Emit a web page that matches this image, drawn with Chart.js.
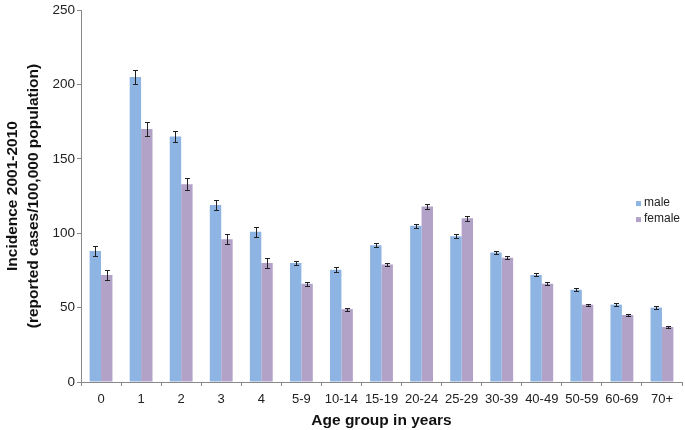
<!DOCTYPE html>
<html>
<head>
<meta charset="utf-8">
<script src="https://cdn.jsdelivr.net/npm/chart.js@4"></script>
<style>
    html, body { margin: 0; padding: 0; background: #fff; }
    #wrap { width: 685px; height: 430px; }
</style>
</head>
<body>
<div id="wrap"><canvas id="incidenceChart" width="685" height="430"></canvas></div>
<script>
// Incidence by age group and sex, 2001-2010
const ageGroups = ['0', '1', '2', '3', '4', '5-9', '10-14', '15-19', '20-24', '25-29', '30-39', '40-49', '50-59', '60-69', '70+'];
const maleValues = [88, 205, 165, 119, 101, 80, 75.5, 92, 105, 98, 87, 72, 62, 52, 50];
const femaleValues = [72, 170, 133, 96, 80, 66, 49, 79, 118, 110, 83.5, 66, 52, 45, 37];
const maleErrors = [3.5, 4.5, 4, 3.5, 3.5, 1.5, 1.5, 1.5, 1.5, 1.5, 1, 1, 1, 1, 1];
const femaleErrors = [3.5, 4.5, 4, 3.5, 3.5, 1.5, 1, 1, 1.5, 1.5, 1, 1, 0.7, 0.7, 0.7];
const yTicks = [0, 50, 100, 150, 200, 250];

const FONT = '"Liberation Sans", Arial, Helvetica, sans-serif';

// Draw error bars from the dataset's own errors array
const errorBars = {
    id: 'errorBars',
    afterDatasetsDraw(chart) {
        const { ctx } = chart;
        const y = chart.scales.y;
        ctx.save();
        ctx.strokeStyle = '#222';
        ctx.lineWidth = 1;
        chart.data.datasets.forEach((ds, i) => {
            const meta = chart.getDatasetMeta(i);
            meta.data.forEach((bar, j) => {
                const v = ds.data[j], e = ds.errors[j];
                const top = Math.round(y.getPixelForValue(v + e)) + 0.5;
                const bot = Math.round(y.getPixelForValue(v - e)) + 0.5;
                const x = Math.round(bar.x) + 0.5;
                ctx.beginPath();
                ctx.moveTo(x, top); ctx.lineTo(x, bot);
                ctx.moveTo(x - 2.5, top); ctx.lineTo(x + 2.5, top);
                ctx.moveTo(x - 2.5, bot); ctx.lineTo(x + 2.5, bot);
                ctx.stroke();
            });
        });
        ctx.restore();
    }
};

// Small legend sitting inside the plot at the right
const sideLegend = {
    id: 'sideLegend',
    afterDraw(chart) {
        const { ctx, chartArea } = chart;
        const x = chartArea.right - 46;
        let yy = chartArea.top + 193;
        ctx.save();
        ctx.font = '12px ' + FONT;
        ctx.textBaseline = 'middle';
        chart.data.datasets.forEach(ds => {
            ctx.fillStyle = ds.backgroundColor;
            ctx.fillRect(x, yy - 2, 5, 5);
            ctx.fillStyle = '#222';
            ctx.fillText(ds.label, x + 8, yy);
            yy += 16;
        });
        ctx.restore();
    }
};

const ctx = document.getElementById('incidenceChart').getContext('2d');
new Chart(ctx, {
    type: 'bar',
    data: {
        labels: ageGroups,
        datasets: [
            {
                label: 'male',
                data: maleValues,
                errors: maleErrors,
                backgroundColor: '#8DB4E2',
                borderWidth: 0,
                categoryPercentage: 0.57,
                barPercentage: 1.0
            },
            {
                label: 'female',
                data: femaleValues,
                errors: femaleErrors,
                backgroundColor: '#B3A2C7',
                borderWidth: 0,
                categoryPercentage: 0.57,
                barPercentage: 1.0
            }
        ]
    },
    options: {
        responsive: false,
        animation: false,
        layout: { padding: { top: 8, right: 3, left: 0, bottom: 0 } },
        scales: {
            x: {
                offset: true,
                afterFit: s => { s.height = 48; },
                grid: { offset: true, drawOnChartArea: false, drawTicks: true, tickLength: 4, color: '#888' },
                border: { color: '#888' },
                ticks: { color: '#222', font: { family: FONT, size: 13 }, padding: 6, maxRotation: 0, autoSkip: false },
                title: {
                    display: true,
                    text: 'Age group in years',
                    color: '#111',
                    font: { family: FONT, size: 15.5, weight: 'bold' },
                    padding: { top: 0, bottom: 0 }
                }
            },
            y: {
                min: 0,
                max: 250,
                afterFit: s => { s.width = 81; },
                afterBuildTicks: s => { s.ticks = yTicks.map(v => ({ value: v })); },
                grid: { drawOnChartArea: false, drawTicks: true, tickLength: 4, color: '#888' },
                border: { color: '#888' },
                ticks: { color: '#222', font: { family: FONT, size: 13.5 }, padding: 2 },
                title: {
                    display: true,
                    text: ['Incidence 2001-2010', '(reported cases/100,000 population)'],
                    color: '#111',
                    font: { family: FONT, size: 15.5, weight: 'bold', lineHeight: 1.3 },
                    padding: { top: 3, bottom: 2 }
                }
            }
        },
        plugins: {
            legend: { display: false },
            tooltip: { enabled: false }
        }
    },
    plugins: [errorBars, sideLegend]
});
</script>
</body>
</html>
